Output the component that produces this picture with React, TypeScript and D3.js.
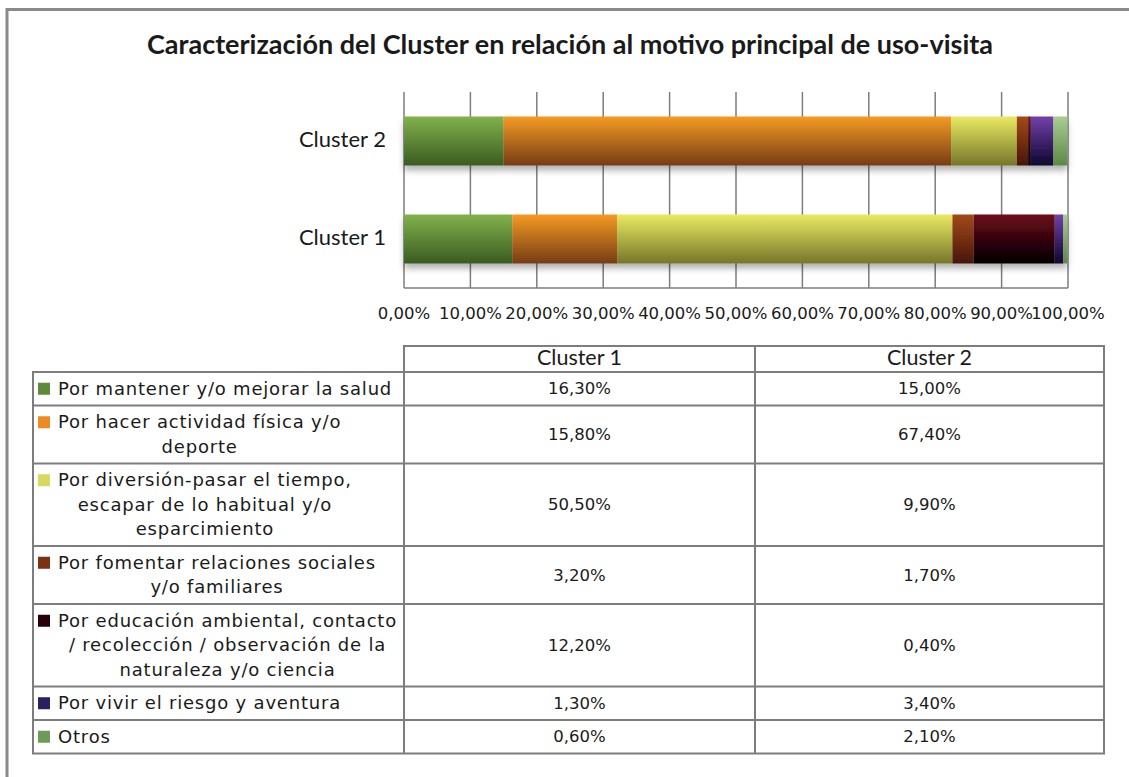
import React, { useEffect, useRef } from 'react';
import * as d3 from 'd3';

// chart data
const clusters = ['Cluster 2', 'Cluster 1'];
const motives = [
  'Por mantener y/o mejorar la salud',
  'Por hacer actividad física y/o deporte',
  'Por diversión-pasar el tiempo, escapar de lo habitual y/o esparcimiento',
  'Por fomentar relaciones sociales y/o familiares',
  'Por educación ambiental, contacto / recolección / observación de la naturaleza y/o ciencia',
  'Por vivir el riesgo y aventura',
  'Otros',
];
// how the table wraps each label
const motiveLines = [
  ['Por mantener y/o mejorar la salud'],
  ['Por hacer actividad física y/o', 'deporte'],
  ['Por diversión-pasar el tiempo,', 'escapar de lo habitual y/o', 'esparcimiento'],
  ['Por fomentar relaciones sociales', 'y/o familiares'],
  ['Por educación ambiental, contacto', '/ recolección / observación de la', 'naturaleza y/o ciencia'],
  ['Por vivir el riesgo y aventura'],
  ['Otros'],
];
const cluster1 = [16.3, 15.8, 50.5, 3.2, 12.2, 1.3, 0.6];
const cluster2 = [15.0, 67.4, 9.9, 1.7, 0.4, 3.4, 2.1];
const xTicks = [0, 10, 20, 30, 40, 50, 60, 70, 80, 90, 100];

const barColors = [
  ['#82b24c', '#3a5b22'],
  ['#f59b24', '#763c14'],
  ['#eaea62', '#76762a'],
  ['#a4491a', '#461606'],
  ['#6c0a1a', '#000000'],
  ['#7242aa', '#0e0630'],
  ['#aacd92', '#5c8846'],
];
const keyColors = ['#5e8b3a', '#ec8a24', '#d9d962', '#7a3212', '#2a0008', '#2e1f62', '#6f9a5a'];

const W = 1129;
const H = 777;
const tableFont = '"DejaVu Sans", sans-serif';
const chartFont = 'Lato, "Open Sans", sans-serif';

const locale = d3.formatLocale({ decimal: ',', thousands: '.', grouping: [3], currency: ['', ''] });
const pct = (v: number) => locale.format('.2f')(v) + '%';

export default function App() {
  const svgRef = useRef<SVGSVGElement>(null);

  const x = d3.scaleLinear().domain([0, 100]).range([404, 1068]);
  const y = d3.scaleBand().domain(clusters).range([92, 288]).paddingInner(0.5).paddingOuter(0.25);

  const series: Record<string, number[]> = { 'Cluster 1': cluster1, 'Cluster 2': cluster2 };
  const rows = clusters.map((c) => {
    let acc = 0;
    return series[c].map((v, i) => {
      const seg = { cluster: c, i, x0: acc, x1: acc + v };
      acc += v;
      return seg;
    });
  });

  // table geometry
  const colL = 33, col1 = 404, col2 = 755, colR = 1104;
  const headTop = 346, headH = 26;
  const lineH = 24.5;
  const rowH = motiveLines.map((l) => l.length * lineH + 9);
  const rowTop: number[] = [];
  rowH.reduce((acc, h) => { rowTop.push(acc); return acc + h; }, headTop + headH);
  const tableBottom = rowTop[rowTop.length - 1] + rowH[rowH.length - 1];

  // center wrapped label lines on the first (widest) line, as the data table does
  useEffect(() => {
    if (!svgRef.current) return;
    const svg = d3.select(svgRef.current);
    svg.selectAll<SVGGElement, unknown>('g.label').each(function () {
      const g = d3.select(this);
      const first = g.select<SVGTextElement>('text').node();
      if (!first) return;
      const w = first.getComputedTextLength();
      g.selectAll('text').attr('x', 58 + w / 2).attr('text-anchor', 'middle');
    });
  }, []);

  return (
    <svg ref={svgRef} width={W} height={H} style={{ position: 'absolute', left: 0, top: 0 }}>
      <defs>
        {barColors.map((c, i) => (
          <linearGradient key={i} id={`grad${i}`} x1="0" y1="0" x2="0" y2="1">
            <stop offset="0" stopColor={c[0]} />
            <stop offset="1" stopColor={c[1]} />
          </linearGradient>
        ))}
        <filter id="shadow" x="-5%" y="-20%" width="110%" height="160%">
          <feDropShadow dx="0" dy="5" stdDeviation="3" floodColor="#000" floodOpacity="0.3" />
        </filter>
      </defs>
      <rect width={W} height={H} fill="#fff" />
      {/* outer frame */}
      <path d={`M7,${H} V9.5 H${W}`} fill="none" stroke="#8a8a8a" strokeWidth={3} />

      <text x={570} y={47} textAnchor="middle" dominantBaseline="middle" fontFamily={chartFont}
        fontWeight={700} fontSize={27} fill="#1a1a1a">
        Caracterización del Cluster en relación al motivo principal de uso-visita
      </text>

      {/* grid */}
      {xTicks.map((t) => (
        <line key={t} x1={x(t)} x2={x(t)} y1={92} y2={288} stroke="#7d7d7d" strokeWidth={1.5} />
      ))}
      <line x1={x(0)} x2={x(100)} y1={288} y2={288} stroke="#7d7d7d" strokeWidth={1.5} />

      {/* bars */}
      {rows.map((segs, r) => (
        <g key={r} filter="url(#shadow)">
          {segs.map((s) => (
            <rect key={s.i} x={x(s.x0)} width={x(s.x1) - x(s.x0)} y={y(s.cluster)} height={y.bandwidth()}
              fill={`url(#grad${s.i})`} />
          ))}
        </g>
      ))}

      {clusters.map((c) => (
        <text key={c} x={386} y={(y(c) ?? 0) + y.bandwidth() / 2} textAnchor="end" dominantBaseline="middle"
          fontFamily={chartFont} fontSize={22} fill="#1a1a1a">{c}</text>
      ))}

      {xTicks.map((t) => (
        <text key={t} x={x(t)} y={314} textAnchor="middle" dominantBaseline="middle"
          fontFamily={tableFont} fontSize={16.5} fill="#1a1a1a">{pct(t)}</text>
      ))}

      {/* data table */}
      <g stroke="#7d7d7d" strokeWidth={2} fill="none">
        <rect x={col1} y={headTop} width={colR - col1} height={headH} />
        <rect x={colL} y={headTop + headH} width={colR - colL} height={tableBottom - headTop - headH} />
        {rowTop.slice(1).map((t, i) => (
          <line key={i} x1={colL} x2={colR} y1={t} y2={t} />
        ))}
        <line x1={col1} x2={col1} y1={headTop} y2={tableBottom} />
        <line x1={col2} x2={col2} y1={headTop} y2={tableBottom} />
      </g>
      {['Cluster 1', 'Cluster 2'].map((c, i) => (
        <text key={c} x={i === 0 ? (col1 + col2) / 2 : (col2 + colR) / 2} y={headTop + headH / 2 + 1}
          textAnchor="middle" dominantBaseline="middle" fontFamily={chartFont} fontSize={21.5} fill="#1a1a1a">{c}</text>
      ))}
      {motives.map((m, i) => {
        const lines = motiveLines[i];
        const top = rowTop[i];
        const firstY = top + rowH[i] / 2 - ((lines.length - 1) * lineH) / 2;
        const mid = top + rowH[i] / 2 + 1;
        return (
          <g key={m}>
            <rect x={38} y={firstY - 6} width={12} height={12} fill={keyColors[i]} />
            <g className="label">
              {lines.map((l, j) => (
                <text key={j} x={58} y={firstY + j * lineH + 1} dominantBaseline="middle"
                  fontFamily={tableFont} fontSize={18} letterSpacing={0.8} fill="#1a1a1a">{l}</text>
              ))}
            </g>
            <text x={(col1 + col2) / 2} y={mid} textAnchor="middle" dominantBaseline="middle"
              fontFamily={tableFont} fontSize={16.5} fill="#1a1a1a">{pct(cluster1[i])}</text>
            <text x={(col2 + colR) / 2} y={mid} textAnchor="middle" dominantBaseline="middle"
              fontFamily={tableFont} fontSize={16.5} fill="#1a1a1a">{pct(cluster2[i])}</text>
          </g>
        );
      })}
    </svg>
  );
}
